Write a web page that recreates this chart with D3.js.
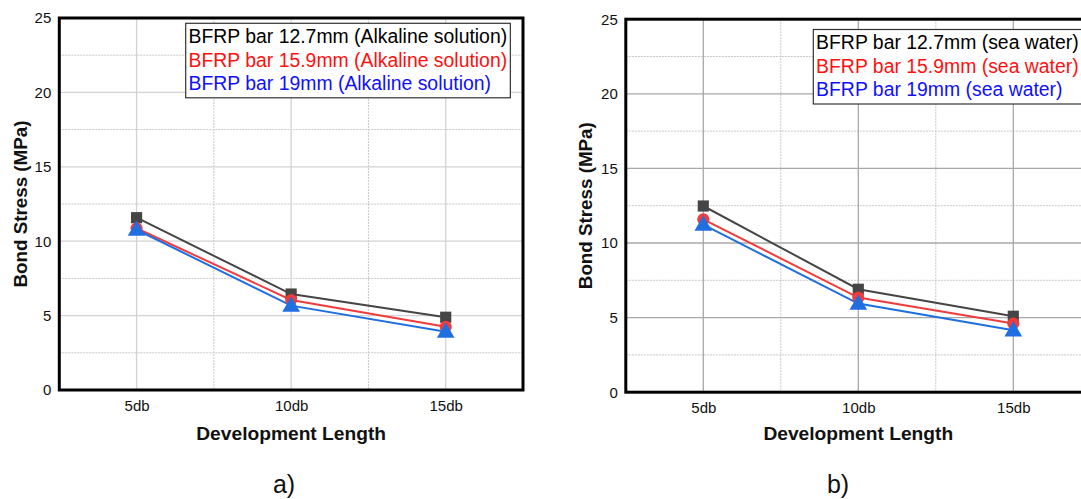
<!DOCTYPE html>
<html>
<head>
<meta charset="utf-8">
<script src="https://cdn.jsdelivr.net/npm/d3@7"></script>
<style>
  html, body { margin: 0; padding: 0; background: #fff; }
  svg { display: block; }
  text { font-family: "Liberation Sans", Arial, sans-serif; }
</style>
</head>
<body>
<svg id="chart" width="1081" height="499"></svg>
<script>
// ---- data ----
const categories = ["5db", "10db", "15db"];
const yTicks = [0, 5, 10, 15, 20, 25];
const yMinorTicks = [2.5, 7.5, 12.5, 17.5, 22.5];

const alkalineNames = [
  "BFRP bar 12.7mm (Alkaline solution)",
  "BFRP bar 15.9mm (Alkaline solution)",
  "BFRP bar 19mm (Alkaline solution)"
];
const alkaline127 = [11.58, 6.45, 4.89];
const alkaline159 = [10.87, 6.05, 4.25];
const alkaline19  = [10.77, 5.67, 3.92];

const seaNames = [
  "BFRP bar 12.7mm (sea water)",
  "BFRP bar 15.9mm (sea water)",
  "BFRP bar 19mm (sea water)"
];
const sea127 = [12.48, 6.90, 5.09];
const sea159 = [11.59, 6.34, 4.60];
const sea19  = [11.23, 5.94, 4.15];

const yTitle = "Bond Stress (MPa)";
const xTitle = "Development Length";
const panelLabels = ["a)", "b)"];

// ---- styles ----
const lineColors = ["#454545", "#f03c3c", "#1f6fe0"];
const textColors = ["#000000", "#ff1010", "#1010ff"];
const markerTypes = [d3.symbolSquare, d3.symbolCircle, d3.symbolTriangle];
const markerSizes = [125, 115, 135];

const svg = d3.select("#chart");

function drawPanel(opt) {
  const g = svg.append("g");
  const x = d3.scalePoint().domain(opt.categories).range([opt.left, opt.right]).padding(0.5);
  const y = d3.scaleLinear().domain([0, 25]).range([opt.bottom, opt.top]);
  const step = x.step();

  // minor grid (dotted)
  const minorX = opt.categories.slice(0, -1).map(c => x(c) + step / 2);
  g.selectAll(".vminor").data(minorX).join("line")
    .attr("x1", d => d).attr("x2", d => d)
    .attr("y1", opt.top).attr("y2", opt.bottom)
    .attr("stroke", "#c8c8c8").attr("stroke-width", 1).attr("stroke-dasharray", "2,1");
  g.selectAll(".hminor").data(yMinorTicks).join("line")
    .attr("x1", opt.left).attr("x2", opt.right)
    .attr("y1", d => y(d)).attr("y2", d => y(d))
    .attr("stroke", "#c8c8c8").attr("stroke-width", 1).attr("stroke-dasharray", "2,1");

  // major grid
  g.selectAll(".vmajor").data(opt.categories).join("line")
    .attr("x1", d => x(d)).attr("x2", d => x(d))
    .attr("y1", opt.top).attr("y2", opt.bottom)
    .attr("stroke", opt.gridColor).attr("stroke-width", 1.3);
  g.selectAll(".hmajor").data(yTicks.slice(1, -1)).join("line")
    .attr("x1", opt.left).attr("x2", opt.right)
    .attr("y1", d => y(d)).attr("y2", d => y(d))
    .attr("stroke", opt.gridColor).attr("stroke-width", 1.3);

  // y axis labels
  const yAxis = d3.axisLeft(y).tickValues(yTicks).tickSize(0).tickPadding(8).tickFormat(d3.format("d"));
  const ya = g.append("g").attr("transform", `translate(${opt.left},0)`).call(yAxis);
  ya.select(".domain").remove();
  ya.attr("font-size", null).attr("font-family", null);
  ya.selectAll("text").style("font-size", "15px").attr("fill", "#111")
    .style("font-family", "'Liberation Sans', Arial, sans-serif");

  // x axis labels
  const xAxis = d3.axisBottom(x).tickSize(0).tickPadding(10);
  const xa = g.append("g").attr("transform", `translate(0,${opt.bottom})`).call(xAxis);
  xa.select(".domain").remove();
  xa.attr("font-size", null).attr("font-family", null);
  xa.selectAll("text").style("font-size", "15px").attr("fill", "#111")
    .style("font-family", "'Liberation Sans', Arial, sans-serif");

  // frame
  g.append("rect")
    .attr("x", opt.left).attr("y", opt.top)
    .attr("width", opt.right - opt.left).attr("height", opt.bottom - opt.top)
    .attr("fill", "none").attr("stroke", "#000").attr("stroke-width", 3);

  // series
  const line = d3.line().x((d, i) => x(opt.categories[i])).y(d => y(d));
  opt.series.forEach((vals, si) => {
    g.append("path").datum(vals)
      .attr("d", line).attr("fill", "none")
      .attr("stroke", lineColors[si]).attr("stroke-width", 2);
  });
  opt.series.forEach((vals, si) => {
    g.selectAll(".m" + si).data(vals).join("path")
      .attr("transform", (d, i) => `translate(${x(opt.categories[i])},${y(d) + (si === 2 ? 1 : 0)})`)
      .attr("d", d3.symbol().type(markerTypes[si]).size(markerSizes[si]))
      .attr("fill", lineColors[si]);
  });

  // legend
  const lg = g.append("g");
  const box = lg.append("rect")
    .attr("x", opt.legendLeft).attr("y", opt.legendTop)
    .attr("height", 74.5)
    .attr("fill", "#fff").attr("stroke", "#333").attr("stroke-width", 1.2);
  let maxW = 0;
  opt.names.forEach((name, i) => {
    const t = lg.append("text")
      .attr("x", opt.legendLeft + 2.8)
      .attr("y", opt.legendTop + 19.6 + i * 23.6)
      .attr("font-size", "19.4px")
      .attr("fill", textColors[i])
      .text(name);
    maxW = Math.max(maxW, t.node().getComputedTextLength());
  });
  box.attr("width", maxW + 6);

  // titles
  g.append("text")
    .attr("transform", `translate(${opt.yTitleX},${(opt.top + opt.bottom) / 2}) rotate(-90)`)
    .attr("text-anchor", "middle")
    .attr("font-size", "18.8px").attr("font-weight", "bold").attr("fill", "#111")
    .text(yTitle);
  g.append("text")
    .attr("x", x(opt.categories[1])).attr("y", 440)
    .attr("text-anchor", "middle")
    .attr("font-size", "19.2px").attr("font-weight", "bold").attr("fill", "#111")
    .text(xTitle);
  g.append("text")
    .attr("x", opt.panelX).attr("y", 493)
    .attr("text-anchor", "middle")
    .attr("font-size", "25px").attr("fill", "#111")
    .attr("font-family", "'Open Sans', 'Liberation Sans', sans-serif")
    .text(opt.panel);
}

drawPanel({
  categories, left: 59.3, right: 523, top: 18, bottom: 390,
  series: [alkaline127, alkaline159, alkaline19], names: alkalineNames,
  legendLeft: 185.7, legendTop: 23.3, gridColor: "#d2d2d2",
  yTitleX: 26.5, panelX: 284, panel: panelLabels[0]
});
drawPanel({
  categories, left: 625.8, right: 1090.8, top: 19.2, bottom: 392.2,
  series: [sea127, sea159, sea19], names: seaNames,
  legendLeft: 813.3, legendTop: 29.5, gridColor: "#a8a8a8",
  yTitleX: 592, panelX: 838, panel: panelLabels[1]
});
</script>
</body>
</html>
